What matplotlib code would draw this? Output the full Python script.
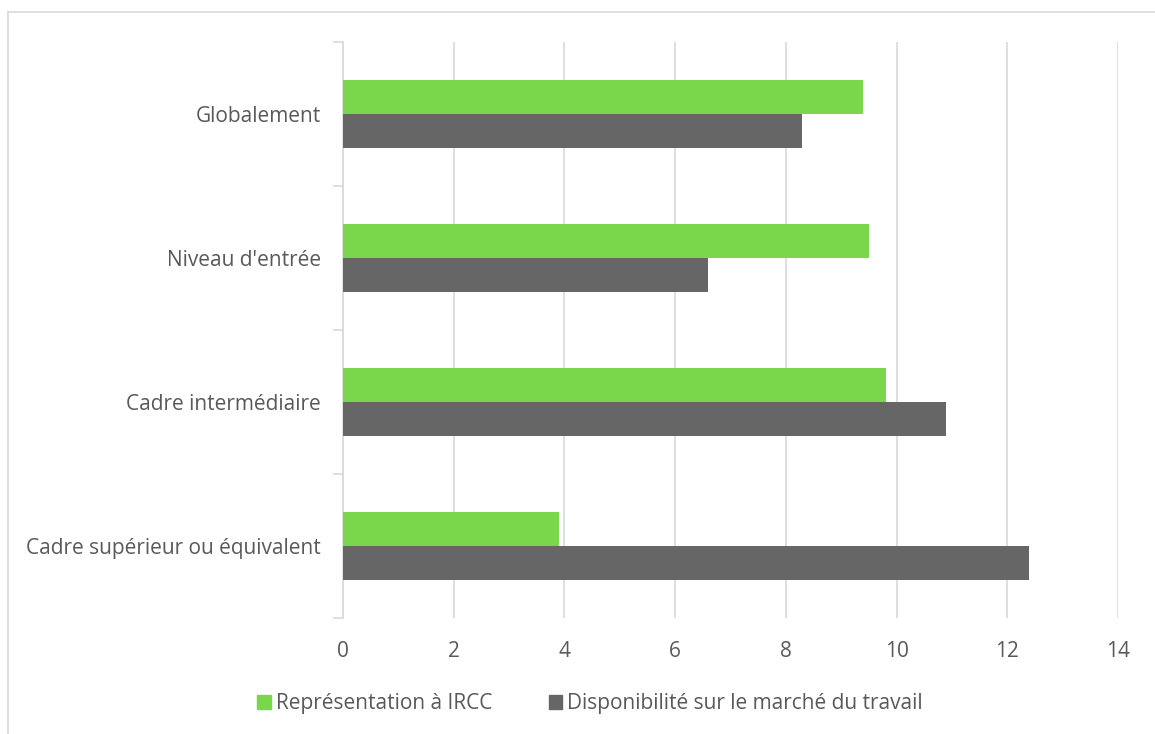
import matplotlib.pyplot as plt
from matplotlib.lines import Line2D
from matplotlib.patches import Patch
import numpy as np

categories = ['Globalement', "Niveau d'entrée", 'Cadre intermédiaire', 'Cadre supérieur ou équivalent']
representation = [9.4, 9.5, 9.8, 3.9]
disponibilite = [8.3, 6.6, 10.9, 12.4]
series_names = ['Représentation à IRCC', 'Disponibilité sur le marché du travail']
xticks = [0, 2, 4, 6, 8, 10, 12, 14]

green = '#7AD74B'
grey = '#666666'
txt = '#595959'
light = '#D9D9D9'

plt.rcParams['font.family'] = ['Open Sans', 'DejaVu Sans']

fig = plt.figure(figsize=(11.55, 7.34), dpi=100)
ax = fig.add_axes([343 / 1155, 1 - 618 / 734, (1118 - 343) / 1155, (618 - 42) / 734])

pos = np.arange(len(categories))[::-1]
h = 0.236
ax.barh(pos + h / 2, representation, height=h, color=green, label=series_names[0], zorder=3)
ax.barh(pos - h / 2, disponibilite, height=h, color=grey, label=series_names[1], zorder=3)

ax.set_xlim(0, 14)
ax.set_ylim(-0.5, len(categories) - 0.5)
ax.set_xticks(xticks)
ax.set_xticklabels([str(t) for t in xticks])
ax.set_yticks(pos)
ax.set_yticklabels(categories)
ax.set_yticks(np.arange(-0.5, len(categories), 1), minor=True)
ax.tick_params(axis='y', which='major', length=0, pad=16, labelsize=15, labelcolor=txt)
ax.tick_params(axis='y', which='minor', length=7, color=light, width=1.2)
ax.tick_params(axis='x', length=0, pad=16.5, labelsize=15, labelcolor=txt)

ax.grid(axis='x', color=light, linewidth=1.2, zorder=0)
for s in ['top', 'right', 'bottom']:
    ax.spines[s].set_visible(False)
ax.spines['left'].set_color(light)
ax.spines['left'].set_linewidth(1.2)

handles = [Patch(color=green), Patch(color=grey)]
fig.legend(handles, series_names, loc='center', bbox_to_anchor=(590 / 1155, 1 - 704 / 734),
           ncol=2, frameon=False, fontsize=15, labelcolor=txt,
           handlelength=0.65, handleheight=0.65, handletextpad=0.25, columnspacing=2.7)

# outer chart border (left and top edges visible)
x0 = 8 / 1155
y0 = 1 - 12 / 734
fig.add_artist(Line2D([x0, x0], [0, y0], transform=fig.transFigure, color=light, lw=1.2))
fig.add_artist(Line2D([x0, 1], [y0, y0], transform=fig.transFigure, color=light, lw=1.2))

fig.savefig('out.png', dpi=100)
